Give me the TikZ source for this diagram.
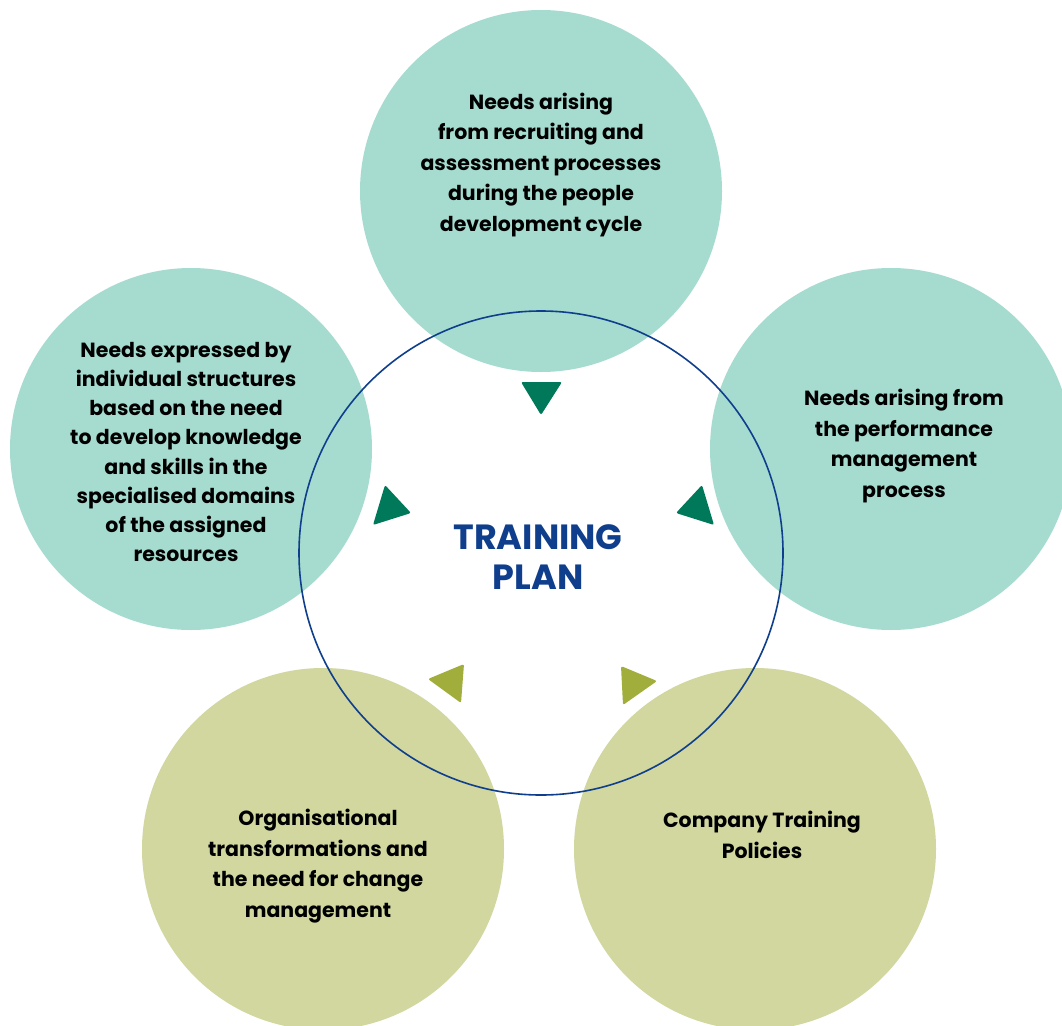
\documentclass[tikz,border=0pt]{standalone}
\usepackage{fontspec}
\setmainfont{Poppins}
\definecolor{teal1}{HTML}{A6DCD0}
\definecolor{olive1}{HTML}{D1D79F}
\definecolor{dgreen}{HTML}{00795A}
\definecolor{olivetri}{HTML}{A2AE3C}
\definecolor{pblue}{HTML}{0F3F8C}
\tikzset{
  bubble/.style={circle, minimum size=362pt, inner sep=0pt, draw=none},
  btext/.style={align=center, font=\fontsize{20.5}{30.5}\selectfont\bfseries, text=black, inner sep=0pt},
  tri/.style={rounded corners=2pt},
}
\begin{document}
\begin{tikzpicture}[x=1pt,y=-1pt]
\useasboundingbox (0,0) rectangle (1062,1025);
\fill[white] (0,0) rectangle (1062,1025);
% bubbles
\node[bubble, fill=teal1] (top) at (541,191) {};
\node[bubble, fill=teal1] (left) at (191,449) {};
\node[bubble, fill=teal1] (right) at (891,449) {};
\node[bubble, fill=olive1] (bl) at (323,849) {};
\node[bubble, fill=olive1] (br) at (755,849) {};
% central circle
\node[circle, minimum size=484pt, inner sep=0pt, draw=pblue, line width=1.6pt] (centre) at (541,553) {};
% texts
\node[btext] (toptext) at (541,165) {Needs arising\\from recruiting and\\assessment processes\\during the people\\development cycle};
\node[btext, font=\fontsize{20.5}{29.2}\selectfont\bfseries] (lefttext) at (186,452) {Needs expressed by\\individual structures\\based on the need\\to develop knowledge\\and skills in the\\specialised domains\\of the assigned\\resources};
\node[btext] (righttext) at (904,446) {Needs arising from\\the performance\\management\\process};
\node[btext] (bltext) at (318,866) {Organisational\\transformations and\\the need for change\\management};
\node[btext] (brtext) at (762,835) {Company Training\\Policies};
\node[align=center, text=pblue, font=\fontsize{35}{40}\selectfont\bfseries, inner sep=0pt] (plan) at (538,557) {TRAINING\\PLAN};
% triangles
\fill[dgreen, tri] (521,382) -- (562,382) -- (541,415) -- cycle;
\fill[dgreen, tri] (385,485) -- (411,513) -- (373,525) -- cycle;
\fill[dgreen, tri] (702,485) -- (714,525) -- (676,513) -- cycle;
\fill[olivetri, tri] (464,664) -- (461,703) -- (428,679) -- cycle;
\fill[olivetri, tri] (621,666) -- (657,681) -- (623,705) -- cycle;
\end{tikzpicture}
\end{document}
